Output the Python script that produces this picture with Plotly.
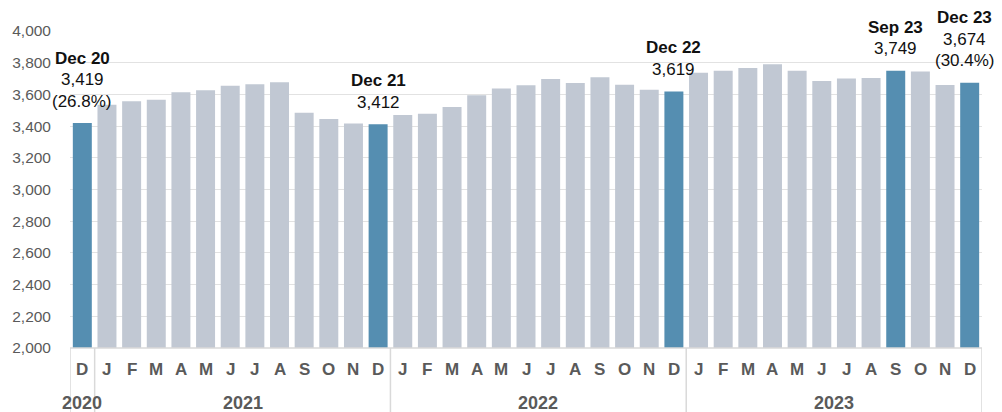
import plotly.graph_objects as go

# ---- data ----
month_letters = ["D"] + ["J", "F", "M", "A", "M", "J", "J", "A", "S", "O", "N", "D"] * 3
years = ["2020", "2021", "2022", "2023"]
year_counts = [1, 12, 12, 12]
values = [3419,
          3535, 3556, 3567, 3613, 3626, 3655, 3664, 3676, 3485, 3445, 3416, 3412,
          3470, 3478, 3520, 3594, 3638, 3657, 3697, 3672, 3708, 3661, 3630, 3619,
          3737, 3750, 3767, 3790, 3750, 3685, 3701, 3703, 3749, 3745, 3659, 3674]
highlight_idx = [0, 12, 24, 33, 36]
highlight_names = ["Dec 20", "Dec 21", "Dec 22", "Sep 23", "Dec 23"]
highlight_pct = ["(26.8%)", "", "", "", "(30.4%)"]
y_ticks = [2000, 2200, 2400, 2600, 2800, 3000, 3200, 3400, 3600, 3800, 4000]

DARK = "#558EB1"
LIGHT = "#C1C8D3"
GRAY = "#5A5A5A"
FONT = "Arial, Liberation Sans, sans-serif"

x = list(range(len(values)))
colors = [DARK if i in highlight_idx else LIGHT for i in x]

fig = go.Figure(go.Bar(x=x, y=values, marker=dict(color=colors, line=dict(width=0)),
                       hoverinfo="skip"))

annotations = []
for idx, name, pct in zip(highlight_idx, highlight_names, highlight_pct):
    lines = [f"<b>{name}</b>", f"{values[idx]:,}"]
    if pct:
        lines.append(pct)
    xs = -5 if idx == len(values) - 1 else 0   # keep the last label inside the page
    for k, line in enumerate(reversed(lines)):
        annotations.append(dict(x=idx, y=values[idx], xref="x", yref="y", text=line,
                                showarrow=False, yanchor="middle", yshift=22 + 21.5 * k,
                                xshift=xs,
                                font=dict(family=FONT, size=17, color="#111111"),
                                align="center"))

for i, m in enumerate(month_letters):
    annotations.append(dict(x=i, y=-0.068, xref="x", yref="paper", text=f"<b>{m}</b>",
                            showarrow=False, yanchor="middle",
                            font=dict(family=FONT, size=17, color=GRAY)))

start = 0
shapes = []
bounds = [-0.5]
for yr, n in zip(years, year_counts):
    center = start + (n - 1) / 2
    annotations.append(dict(x=center, y=-0.172, xref="x", yref="paper", text=f"<b>{yr}</b>",
                            showarrow=False, yanchor="middle",
                            font=dict(family=FONT, size=18, color=GRAY)))
    start += n
    bounds.append(start - 0.5)

for b in bounds:
    shapes.append(dict(type="line", xref="x", yref="paper", x0=b, x1=b, y0=0, y1=-0.25,
                       line=dict(color="#D9D9D9", width=1.5)))
shapes.append(dict(type="line", xref="x", yref="paper", x0=-0.5, x1=len(values) - 0.5,
                   y0=0, y1=0, line=dict(color="#D9D9D9", width=1.5)))

# page body has an 8px margin, so the figure is sized to fit the 1002x412 window
fig.update_layout(
    width=994, height=404,
    margin=dict(l=62, r=20, t=23, b=64, autoexpand=False),
    plot_bgcolor="white", paper_bgcolor="white",
    bargap=0.23,
    showlegend=False,
    annotations=annotations,
    shapes=shapes,
    font=dict(family=FONT),
    xaxis=dict(range=[-0.5, len(values) - 0.5], showticklabels=False, showgrid=False,
               zeroline=False, fixedrange=True, automargin=False),
    yaxis=dict(range=[2000, 4000], tickvals=y_ticks, tickformat=",",
               tickfont=dict(family=FONT, size=15.5, color=GRAY),
               gridcolor="#E2E2E2", gridwidth=1, zeroline=False, ticks="",
               ticklabelstandoff=18, automargin=False),
)

fig.write_html("out.html")
